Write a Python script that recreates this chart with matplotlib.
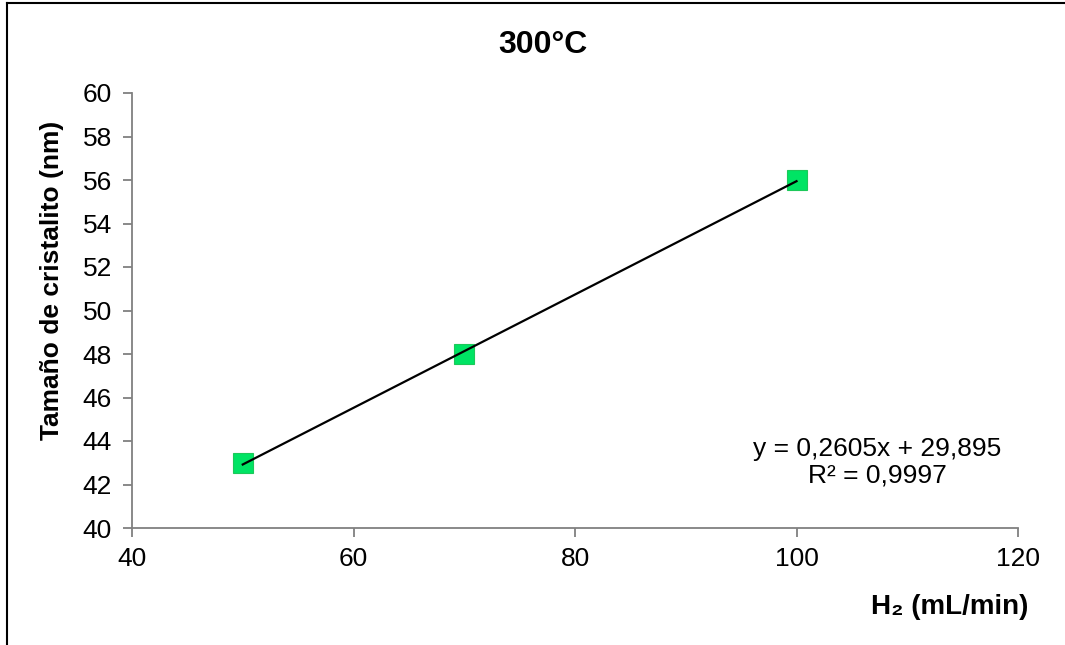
import matplotlib
matplotlib.use("Agg")
import matplotlib.pyplot as plt
from matplotlib.lines import Line2D
import numpy as np

plt.rcParams['font.family'] = ['Liberation Sans', 'DejaVu Sans']

# Data
h2_flow = [50, 70, 100]
crystal_size = [43, 48, 56]
slope = 0.2605
intercept = 29.895
title = "300°C"
xlabel = "H₂ (mL/min)"
ylabel = "Tamaño de cristalito (nm)"
eq_text = "y = 0,2605x + 29,895\nR² = 0,9997"
xticks = [40, 60, 80, 100, 120]
yticks = list(range(40, 61, 2))

W, H = 1065, 645
fig = plt.figure(figsize=(W / 100, H / 100), dpi=100)
ax = fig.add_axes([132 / W, 1 - 528 / H, (1018 - 132) / W, (528 - 93) / H])

# trend line
xs = np.array([min(h2_flow), max(h2_flow)])
ax.plot(xs, slope * xs + intercept, color='black', lw=1.6, zorder=3)
ax.plot(h2_flow, crystal_size, linestyle='none', marker='s', markersize=14.5,
        markerfacecolor='#00E464', markeredgecolor='#1DC85A', markeredgewidth=0.8, zorder=2)

ax.set_xlim(40, 120)
ax.set_ylim(40, 60)
ax.set_xticks(xticks)
ax.set_yticks(yticks)
for s in ['top', 'right']:
    ax.spines[s].set_visible(False)
for s in ['left', 'bottom']:
    ax.spines[s].set_color('#808080')
    ax.spines[s].set_linewidth(1.3)
ax.tick_params(axis='both', direction='out', length=6.5, width=1.3, color='#808080',
               labelsize=19, labelcolor='black')
ax.tick_params(axis='y', pad=8)
ax.tick_params(axis='x', pad=7)

fig.text(543 / W, 1 - 45 / H, title, ha='center', va='center', fontsize=23, fontweight='bold')
fig.text(52 / W, 1 - 280 / H, ylabel, ha='center', va='center', rotation=90,
         fontsize=19, fontweight='bold')
fig.text(1028 / W, 1 - 607 / H, xlabel, ha='right', va='center', fontsize=20, fontweight='bold')
fig.text(877 / W, 1 - 462 / H, eq_text, ha='center', va='center', fontsize=19,
         linespacing=1.15)

# chart border (top and left visible)
fig.add_artist(Line2D([7 / W, 1.0], [1 - 3 / H, 1 - 3 / H], color='black', lw=1.5,
                      transform=fig.transFigure))
fig.add_artist(Line2D([7 / W, 7 / W], [0, 1 - 3 / H], color='black', lw=1.5,
                      transform=fig.transFigure))

fig.savefig('out.png', dpi=100)
